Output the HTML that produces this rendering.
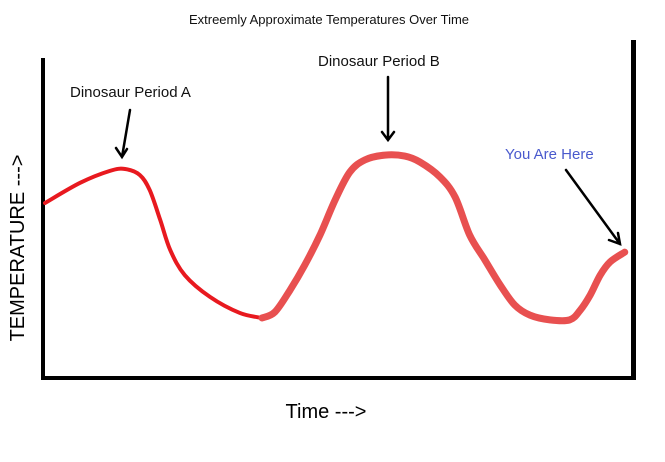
<!DOCTYPE html>
<html><head><meta charset="utf-8"><style>
body{margin:0;background:#fff;width:665px;height:457px;overflow:hidden}
svg text{font-family:"Liberation Sans",sans-serif}
</style></head><body>
<svg id="c" width="665" height="457">
<text x="329" y="24" font-size="13" text-anchor="middle" fill="#111">Extreemly Approximate Temperatures Over Time</text>
<rect x="41" y="58" width="4" height="322" fill="#000"/>
<rect x="41" y="376" width="595" height="4" fill="#000"/>
<rect x="631" y="40" width="5" height="340" fill="#000"/>
<text transform="translate(24,248) rotate(-90)" font-size="20" text-anchor="middle" fill="#000">TEMPERATURE ---&gt;</text>
<text x="326" y="418" font-size="20" text-anchor="middle" fill="#000">Time ---&gt;</text>
<text x="70" y="97" font-size="15" fill="#111">Dinosaur Period A</text>
<text x="318" y="66" font-size="15" fill="#111">Dinosaur Period B</text>
<text x="505" y="159" font-size="15" fill="#4a5acd">You Are Here</text>
<g stroke="#000" stroke-width="2.5" fill="none" stroke-linecap="round">
<path d="M130 110 L122 157 M116 148 L122 157 L127 149"/>
<path d="M388 77 L388 140 M382 132 L388 140 L394 132"/>
<path d="M566 170 L620 244 M609 240 L620 244 L618 233"/>
</g>
</svg>
<script>
const timeA=[0,6.0,11.1,13.7,16.2,17.9,19.7,21.4,23.9,28.2,33.3,37.1];
const tempA=[54.6,61.0,64.8,65.4,63.5,58.7,49.2,39.7,31.7,24.8,19.7,18.1];
const timeB=[37.1,39.3,41.9,44.4,47.0,49.6,52.1,54.7,58.1,61.5,64.1,67.5,70.1,72.6,75.2,77.8,80.3,82.9,86.3,89.7,91.5,93.2,94.9,96.6,99.1];
const tempB=[18.1,20.0,27.0,34.9,44.4,55.6,64.4,68.3,69.8,69.5,67.6,62.9,56.5,44.4,36.5,28.6,22.2,19.0,17.5,17.5,20.6,25.4,31.7,35.9,39.0];
function xs(t){return 45+t*5.85;}
function ys(v){return 375-v*3.15;}
function path(tx,ty){
  const p=tx.map((t,i)=>[xs(t),ys(ty[i])]);
  let d='M'+p[0][0]+' '+p[0][1];
  for(let i=0;i<p.length-1;i++){
    const p0=p[Math.max(0,i-1)],p1=p[i],p2=p[i+1],p3=p[Math.min(p.length-1,i+2)];
    const c1=[p1[0]+(p2[0]-p0[0])/6,p1[1]+(p2[1]-p0[1])/6];
    const c2=[p2[0]-(p3[0]-p1[0])/6,p2[1]-(p3[1]-p1[1])/6];
    d+=` C${c1[0]} ${c1[1]} ${c2[0]} ${c2[1]} ${p2[0]} ${p2[1]}`;
  }
  return d;
}
const svg=document.getElementById('c');
const ns='http://www.w3.org/2000/svg';
const a=document.createElementNS(ns,'path');
a.setAttribute('d',path(timeA,tempA));
a.setAttribute('stroke','#e8191f');a.setAttribute('stroke-width','4');a.setAttribute('fill','none');a.setAttribute('stroke-linecap','round');


svg.appendChild(a);
const b=document.createElementNS(ns,'path');
b.setAttribute('d',path(timeB,tempB));
b.setAttribute('stroke','#e85050');b.setAttribute('stroke-width','7');b.setAttribute('fill','none');b.setAttribute('stroke-linecap','round');b.setAttribute('stroke-linejoin','round');


svg.appendChild(b);
</script>
</body></html>
